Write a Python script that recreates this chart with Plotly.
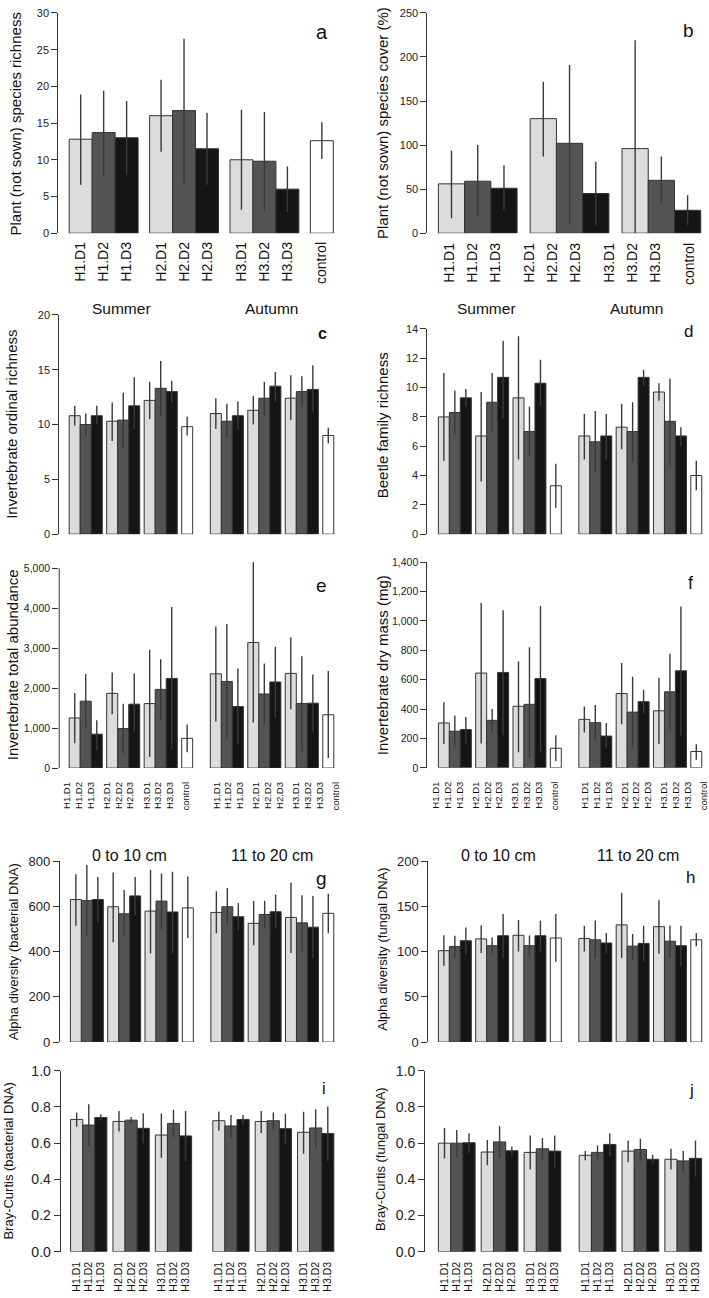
import plotly.graph_objects as go

W, H = 709, 1298
FONT = "Liberation Sans, Arial, sans-serif"
C_D1, C_D2, C_D3, C_CTRL = "#dcdcdc", "#545454", "#151515", "#ffffff"
EDGE = "#333333"

labels_ctrl = ["H1.D1", "H1.D2", "H1.D3", "H2.D1", "H2.D2", "H2.D3",
               "H3.D1", "H3.D2", "H3.D3", "control"]
labels_9 = labels_ctrl[:9]

# ---------------- data (mean, lower, upper) ----------------
a_mean = [12.8, 13.7, 13.0, 16.0, 16.7, 11.5, 10.0, 9.8, 6.0, 12.6]
a_lo = [6.6, 7.9, 7.9, 11.1, 6.8, 6.6, 3.2, 3.0, 2.9, 10.1]
a_hi = [18.9, 19.4, 18.0, 20.9, 26.5, 16.4, 16.8, 16.5, 9.1, 15.1]

b_mean = [56, 59, 51, 130, 102, 45, 96, 60, 26]
b_lo = [17, 19, 26, 87, 11, 9, 0, 33, 9]
b_hi = [94, 100, 77, 172, 191, 81, 219, 87, 43]

c_mean = [10.8, 10.0, 10.8, 10.3, 10.4, 11.7, 12.2, 13.3, 13.0, 9.8,
          11.0, 10.3, 10.8, 11.3, 12.4, 13.5, 12.4, 13.0, 13.2, 9.0]
c_lo = [9.9, 9.0, 10.0, 8.5, 7.8, 9.6, 10.5, 10.8, 12.0, 9.0,
        9.6, 8.8, 9.6, 10.0, 10.8, 12.1, 10.4, 11.6, 11.1, 8.3]
c_hi = [11.7, 11.0, 11.7, 12.0, 12.9, 14.3, 13.9, 15.8, 14.0, 10.7,
        12.4, 11.9, 12.1, 12.6, 13.9, 14.8, 14.5, 14.4, 15.4, 9.7]

d_mean = [8.0, 8.3, 9.3, 6.7, 9.0, 10.7, 9.3, 7.0, 10.3, 3.3,
          6.7, 6.3, 6.7, 7.3, 7.0, 10.7, 9.7, 7.7, 6.7, 4.0]
d_lo = [5.0, 6.8, 8.7, 3.6, 7.0, 7.9, 5.1, 5.3, 8.8, 1.8,
        5.1, 4.2, 5.1, 5.8, 4.9, 10.1, 9.1, 4.7, 6.0, 3.0]
d_hi = [11.0, 9.8, 9.9, 9.7, 11.0, 13.2, 13.5, 8.7, 11.9, 4.8,
        8.2, 8.4, 8.2, 8.9, 9.0, 11.2, 10.3, 10.6, 7.3, 5.0]

e_mean = [1255, 1675, 850, 1870, 990, 1600, 1615, 1970, 2245, 745,
          2360, 2165, 1540, 3145, 1855, 2155, 2370, 1615, 1625, 1335]
e_lo = [620, 1000, 450, 1345, 375, 890, 280, 1195, 480, 400,
        1165, 730, 590, 1140, 1085, 1280, 1470, 425, 890, 250]
e_hi = [1880, 2355, 1195, 2395, 1610, 2370, 2965, 2725, 4030, 1090,
        3545, 3605, 2495, 5150, 2615, 3035, 3275, 2800, 2340, 2430]

f_mean = [305, 249, 260, 645, 323, 649, 419, 432, 607, 133,
          330, 307, 216, 506, 379, 450, 388, 517, 660, 111]
f_lo = [162, 137, 166, 166, 238, 222, 106, 66, 110, 45,
        240, 184, 137, 296, 137, 368, 162, 263, 220, 55]
f_hi = [446, 356, 345, 1121, 401, 1072, 725, 821, 1101, 222,
        417, 428, 305, 714, 620, 531, 613, 777, 1098, 160]

g_mean = [630, 625, 630, 598, 567, 646, 579, 623, 575, 593,
          573, 598, 554, 525, 564, 576, 551, 527, 508, 569]
g_lo = [513, 470, 530, 441, 470, 561, 391, 499, 394, 460,
        481, 515, 496, 428, 503, 503, 394, 401, 372, 481]
g_hi = [742, 783, 729, 749, 672, 730, 762, 745, 753, 732,
        666, 681, 615, 623, 625, 652, 704, 649, 646, 655]

h_mean = [101, 105.5, 112, 114, 106.5, 117.5, 118, 106.5, 117.5, 115,
          114.5, 113, 109.5, 129.5, 106, 109, 127.5, 111.5, 106.5, 113]
h_lo = [84, 93, 97, 98.5, 98.5, 93, 100, 95, 100, 88.7,
        100, 92.4, 98.5, 93, 91.3, 89.5, 97.5, 93, 84, 105.8]
h_hi = [118, 117.5, 126.5, 128.7, 115.6, 141.5, 135, 117.8, 134.2, 141.5,
        128.4, 134.2, 120.4, 165, 119.3, 128.4, 156.7, 128.7, 128.4, 120.4]

i_mean = [0.731, 0.700, 0.742, 0.720, 0.727, 0.682, 0.645, 0.709, 0.640,
          0.724, 0.695, 0.731, 0.720, 0.724, 0.680, 0.660, 0.684, 0.653]
i_lo = [0.691, 0.584, 0.724, 0.665, 0.709, 0.600, 0.520, 0.633, 0.502,
        0.669, 0.629, 0.705, 0.656, 0.676, 0.596, 0.542, 0.578, 0.502]
i_hi = [0.769, 0.815, 0.760, 0.778, 0.745, 0.765, 0.764, 0.784, 0.778,
        0.775, 0.756, 0.755, 0.778, 0.769, 0.762, 0.773, 0.787, 0.802]

j_mean = [0.600, 0.600, 0.602, 0.551, 0.607, 0.558, 0.549, 0.569, 0.556,
          0.533, 0.549, 0.593, 0.556, 0.565, 0.511, 0.511, 0.502, 0.516]
j_lo = [0.515, 0.524, 0.545, 0.478, 0.520, 0.533, 0.455, 0.505, 0.465,
        0.505, 0.511, 0.529, 0.496, 0.502, 0.487, 0.455, 0.442, 0.415]
j_hi = [0.684, 0.673, 0.655, 0.618, 0.693, 0.582, 0.642, 0.629, 0.642,
        0.556, 0.587, 0.655, 0.615, 0.624, 0.536, 0.569, 0.556, 0.615]

yt_a = [0, 5, 10, 15, 20, 25, 30]
yt_b = [0, 50, 100, 150, 200, 250]
yt_c = [0, 5, 10, 15, 20]
yt_d = [0, 2, 4, 6, 8, 10, 12, 14]
yt_e = [0, 1000, 2000, 3000, 4000, 5000]
yt_f = [0, 200, 400, 600, 800, 1000, 1200, 1400]
yt_g = [0, 200, 400, 600, 800]
yt_h = [0, 50, 100, 150, 200]
yt_ij = [0.0, 0.2, 0.4, 0.6, 0.8, 1.0]


def bar_positions(n_seasons, ctrl, ggap, sgap):
    xs, u = [], 0.0
    for _ in range(n_seasons):
        for _g in range(3):
            xs += [u + 0.5, u + 1.5, u + 2.5]
            u += 3 + ggap
        if ctrl:
            xs.append(u + 0.5)
            u += 1 + sgap
        else:
            u += sgap - ggap
    return xs


def bar_colors(n_seasons, ctrl):
    cols = []
    for _ in range(n_seasons):
        cols += [C_D1, C_D2, C_D3] * 3
        if ctrl:
            cols.append(C_CTRL)
    return cols


panels = [
    dict(mean=a_mean, lo=a_lo, hi=a_hi, ns=1, ctrl=True, gg=0.5, sg=0.0,
         start=69.3, bw=23.0, axis=58.3, right=352, y0=228, y1=5, ytv=yt_a, yfmt="",
         ytf=11, xl=labels_ctrl, xlf=14, lmode="a", stand=5),
    dict(mean=b_mean, lo=b_lo, hi=b_hi, ns=1, ctrl=False, gg=0.5, sg=0.0,
         start=439, bw=26.27, axis=428, right=709, y0=228, y1=5, ytv=yt_b, yfmt="",
         ytf=11, xl=labels_ctrl, xlf=14, lmode="b", stand=6),
    dict(mean=c_mean, lo=c_lo, hi=c_hi, ns=2, ctrl=True, gg=0.4, sg=1.6,
         start=69.3, bw=11.04, axis=59.3, right=352, y0=532.7, y1=310.7, ytv=yt_c, yfmt="",
         ytf=11, xl=None),
    dict(mean=d_mean, lo=d_lo, hi=d_hi, ns=2, ctrl=True, gg=0.4, sg=1.6,
         start=439, bw=10.99, axis=428, right=709, y0=532.7, y1=325, ytv=yt_d, yfmt="",
         ytf=11, xl=None),
    dict(mean=e_mean, lo=e_lo, hi=e_hi, ns=2, ctrl=True, gg=0.4, sg=1.6,
         start=69.3, bw=11.04, axis=59.3, right=352, y0=769.6, y1=567.3, ytv=yt_e, yfmt=",",
         ytf=10.5, xl=labels_ctrl * 2, xlf=9.5, lmode="s", stand=11, ytop=5300),
    dict(mean=f_mean, lo=f_lo, hi=f_hi, ns=2, ctrl=True, gg=0.4, sg=1.6,
         start=439, bw=10.99, axis=428, right=709, y0=769.3, y1=561, ytv=yt_f, yfmt=",",
         ytf=10.5, xl=labels_ctrl * 2, xlf=9.5, lmode="s", stand=11),
    dict(mean=g_mean, lo=g_lo, hi=g_hi, ns=2, ctrl=True, gg=0.4, sg=1.6,
         start=70.5, bw=10.99, axis=60, right=352, y0=1047, y1=863.7, ytv=yt_g, yfmt="",
         ytf=13, xl=None),
    dict(mean=h_mean, lo=h_lo, hi=h_hi, ns=2, ctrl=True, gg=0.4, sg=1.6,
         start=439, bw=10.99, axis=429, right=709, y0=1047, y1=863.7, ytv=yt_h, yfmt="",
         ytf=13, xl=None),
    dict(mean=i_mean, lo=i_lo, hi=i_hi, ns=2, ctrl=False, gg=0.5, sg=1.75,
         start=70.7, bw=12.12, axis=60.7, right=352, y0=1259.3, y1=1076, ytv=yt_ij, yfmt=".1f",
         ytf=14, xl=labels_9 * 2, xlf=10.5, lmode="a", stand=7),
    dict(mean=j_mean, lo=j_lo, hi=j_hi, ns=2, ctrl=False, gg=0.5, sg=1.5,
         start=439, bw=12.26, axis=425.7, right=709, y0=1259.3, y1=1076, ytv=yt_ij, yfmt=".1f",
         ytf=14, xl=labels_9 * 2, xlf=10.5, lmode="a", stand=7),
]

fig = go.Figure()
layout = {}
shapes = []
for n, p in enumerate(panels, start=1):
    sfx = "" if n == 1 else str(n)
    xs = bar_positions(p["ns"], p["ctrl"], p["gg"], p["sg"])
    cols = bar_colors(p["ns"], p["ctrl"])
    fig.add_trace(go.Bar(
        x=xs, y=p["mean"], width=1.0,
        marker=dict(color=cols, line=dict(color=EDGE, width=1)),
        error_y=dict(type="data", symmetric=False,
                     array=[h - m for h, m in zip(p["hi"], p["mean"])],
                     arrayminus=[m - l for m, l in zip(p["mean"], p["lo"])],
                     width=0, thickness=1.4, color="#3a3a3a"),
        xaxis="x" + sfx, yaxis="y" + sfx, cliponaxis=False,
        showlegend=False, hoverinfo="skip"))

    xr = [(p["axis"] - p["start"]) / p["bw"], (p["right"] - p["start"]) / p["bw"]]
    xax = dict(domain=[p["axis"] / W, p["right"] / W], range=xr, anchor="y" + sfx,
               showgrid=False, zeroline=False, showline=False, ticks="")
    if p["xl"]:
        if p["lmode"] == "b":
            ref = bar_positions(1, True, 0.5, 0.0)
            tv = [v * (max(xs) + 0.5) / (max(ref) + 0.5) for v in ref]
        elif p["lmode"] == "s":
            c = (xs[0] + xs[-1]) / 2
            tv = [c + (v - c) * 1.06 for v in xs]
        else:
            tv = xs
        xax.update(tickmode="array", tickvals=tv, ticktext=p["xl"], tickangle=-90,
                   tickfont=dict(family=FONT, size=p["xlf"], color="#111"),
                   ticklabelstandoff=p["stand"], ticklabeloverflow="allow",
                   showticklabels=True)
    else:
        xax.update(showticklabels=False)
    layout["xaxis" + sfx] = xax

    ymax = p["ytv"][-1]
    ytop = p.get("ytop", ymax)
    y0, y1 = p["y0"], p["y1"]
    # extend the domain upward if the range is extended (keeps the same scale)
    y1_ext = y0 - (y0 - y1) * ytop / ymax
    yax = dict(domain=[1 - y0 / H, 1 - y1_ext / H],
               range=[0, ytop], anchor="x" + sfx,
               showgrid=False, zeroline=False, showline=(ytop == ymax),
               linecolor=EDGE, linewidth=1,
               ticks="outside", ticklen=6, tickcolor=EDGE, tickwidth=1,
               tickmode="array", tickvals=p["ytv"], tickformat=p["yfmt"],
               tickfont=dict(family=FONT, size=p["ytf"], color="#222"))
    layout["yaxis" + sfx] = yax
    if ytop != ymax:
        shapes.append(dict(type="line", xref="x" + sfx + " domain", yref="y" + sfx,
                           x0=0, x1=0, y0=0, y1=ymax,
                           line=dict(color=EDGE, width=1)))

ann = []


def txt(x, y, s, size, angle=0, bold=False):
    ann.append(dict(x=x / W, y=1 - y / H, xref="paper", yref="paper",
                    text=("<b>%s</b>" % s) if bold else s, showarrow=False,
                    textangle=angle, xanchor="center", yanchor="middle",
                    font=dict(family=FONT, size=size, color="#111")))


# y-axis titles
txt(16, 117, "Plant (not sown) species richness", 15, -90)
txt(383, 116, "Plant (not sown) species cover (%)", 15, -90)
txt(12, 421, "Invertebrate ordinal richness", 15, -90)
txt(383, 422, "Beetle family richness", 15, -90)
txt(12.5, 665, "Invertebrate total abundance", 15, -90)
txt(383, 665, "Invertebrate dry mass (mg)", 15, -90)
txt(13, 955, "Alpha diversity (bacterial DNA)", 13, -90)
txt(383, 953, "Alpha diversity (fungal DNA)", 13, -90)
txt(9, 1167, "Bray-Curtis (bacterial DNA)", 13, -90)
txt(381, 1165, "Bray-Curtis (fungal DNA)", 13, -90)

# panel letters
txt(322, 24, "a", 20)
txt(689, 23, "b", 19)
txt(323, 330, "c", 16, bold=True)
txt(689, 328, "d", 17)
txt(322, 585, "e", 19)
txt(692, 582, "f", 18)
txt(322, 881, "g", 19)
txt(691, 880, "h", 17)
txt(324, 1094, "i", 16)
txt(692, 1096, "j", 17)

# group headers
txt(122, 304, "Summer", 15.5)
txt(272, 304, "Autumn", 15.5)
txt(487, 304, "Summer", 15.5)
txt(637, 304, "Autumn", 15.5)
txt(130, 858, "0 to 10 cm", 16)
txt(272, 858, "11 to 20 cm", 16)
txt(499, 858, "0 to 10 cm", 16)
txt(639, 858, "11 to 20 cm", 16)

fig.update_layout(
    width=W, height=H, margin=dict(l=0, r=0, t=0, b=0),
    paper_bgcolor="white", plot_bgcolor="white",
    font=dict(family=FONT), annotations=ann, shapes=shapes, **layout)

fig.write_html("out.html", config={"displayModeBar": False},
               post_script="document.body.style.margin='0';document.body.style.padding='0';")
